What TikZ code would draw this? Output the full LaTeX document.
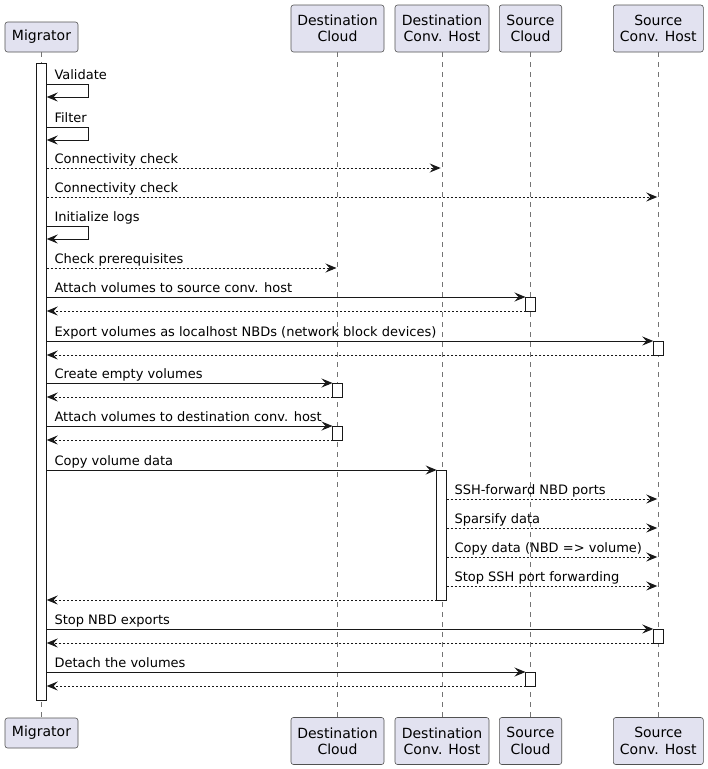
\documentclass[tikz,border=0pt]{standalone}
\usepackage{fontspec}
\setmainfont{DejaVu Sans}
\usetikzlibrary{arrows.meta}
\definecolor{partfill}{HTML}{E2E2F0}
\definecolor{ink}{HTML}{181818}
\tikzset{
 part/.style={draw=ink!75, line width=0.6pt, fill=partfill, rounded corners=2.5pt, font=\fontsize{14}{16.3}\selectfont, align=center, inner sep=0pt},
 lifeline/.style={draw=ink!60, line width=0.6pt, dash pattern=on 5pt off 5pt},
 actbox/.style={draw=ink, line width=1pt, fill=white, inner sep=0pt, minimum width=10pt},
 call/.style={draw=ink, line width=1pt, -{Stealth[length=11pt,width=9pt,inset=4pt]}},
 reply/.style={call, dash pattern=on 2pt off 2pt},
 lbl/.style={font=\fontsize{13}{15}\selectfont, inner sep=0pt, anchor=base west, text=black},
}
% #1 name, #2 y, #3 label
\newcommand{\selfmsg}[3]{%
 \draw[call] (46.7,#2) -- (88.3,#2) -- (88.3,#2+13) -- (46.7,#2+13);
 \node[lbl] (#1) at (54.3,#2-5) {#3};}
% #1 name, #2 style, #3 y, #4 x1, #5 x2, #6 label
\newcommand{\msg}[6]{%
 \draw[#2] (#4,#3) -- (#5,#3);
 \node[lbl] (#1) at (#4+7.6,#3-5) {#6};}
\newcommand{\ret}[3]{% y, x1, x2
 \draw[reply] (#2,#1) -- (#3,#1);}
\newcommand{\act}[4]{% name, x, y1, y2
 \node[actbox, minimum height=#4-#3] (#1) at (#2,{(#3+#4)/2}) {};}
\begin{document}
\begin{tikzpicture}[x=1pt,y=-1pt]
\useasboundingbox (0,0) rectangle (708,769);
% participants
\node[part, minimum width=73, minimum height=30] (mT) at (41.5,37) {Migrator};
\node[part, minimum width=93, minimum height=47] (dcT) at (337.5,28.5) {Destination\\Cloud};
\node[part, minimum width=94, minimum height=47] (dhT) at (442,28.5) {Destination\\Conv. Host};
\node[part, minimum width=62.4, minimum height=47] (scT) at (530.5,28.5) {Source\\Cloud};
\node[part, minimum width=90, minimum height=47] (shT) at (658.3,28.5) {Source\\Conv. Host};
\node[part, minimum width=73, minimum height=30] (mB) at (41.5,733) {Migrator};
\node[part, minimum width=93, minimum height=47] (dcB) at (337.5,741) {Destination\\Cloud};
\node[part, minimum width=94, minimum height=47] (dhB) at (442,741) {Destination\\Conv. Host};
\node[part, minimum width=62.4, minimum height=47] (scB) at (530.5,741) {Source\\Cloud};
\node[part, minimum width=90, minimum height=47] (shB) at (658.3,741) {Source\\Conv. Host};
% lifelines
\draw[lifeline] (mT.south) -- (mB.north);
\draw[lifeline] (dcT.south) -- (dcB.north);
\draw[lifeline] (dhT.south) -- (dhB.north);
\draw[lifeline] (scT.south) -- (scB.north);
\draw[lifeline] (shT.south) -- (shB.north);
% activations
\act{actM}{41.7}{63}{700}
\act{actSC1}{530.5}{297}{311}
\act{actSH1}{658.3}{341}{355}
\act{actDC1}{337.5}{383}{397}
\act{actDC2}{337.5}{426}{440}
\act{actDH}{441.7}{470}{600}
\act{actSH2}{658.3}{629}{643}
\act{actSC2}{530.5}{672}{686}
% messages
\selfmsg{l1}{84}{Validate}
\selfmsg{l2}{127}{Filter}
\msg{l3}{reply}{168}{46.7}{440.7}{Connectivity check}
\msg{l4}{reply}{197}{46.7}{657.3}{Connectivity check}
\selfmsg{l5}{226}{Initialize logs}
\msg{l6}{reply}{268}{46.7}{336.5}{Check prerequisites}
\msg{l7}{call}{297}{46.7}{525.5}{Attach volumes to source conv. host}
\ret{311}{525.5}{46.7}
\msg{l8}{call}{341}{46.7}{653.3}{Export volumes as localhost NBDs (network block devices)}
\ret{355}{653.3}{46.7}
\msg{l9}{call}{383}{46.7}{332.5}{Create empty volumes}
\ret{397}{332.5}{46.7}
\msg{l10}{call}{426}{46.7}{332.5}{Attach volumes to destination conv. host}
\ret{440}{332.5}{46.7}
\msg{l11}{call}{470}{46.7}{436.7}{Copy volume data}
\msg{l12}{reply}{499}{446.7}{657.3}{SSH-forward NBD ports}
\msg{l13}{reply}{528}{446.7}{657.3}{Sparsify data}
\msg{l14}{reply}{557}{446.7}{657.3}{Copy data (NBD => volume)}
\msg{l15}{reply}{586}{446.7}{657.3}{Stop SSH port forwarding}
\ret{600}{436.7}{46.7}
\msg{l16}{call}{629}{46.7}{653.3}{Stop NBD exports}
\ret{643}{653.3}{46.7}
\msg{l17}{call}{672}{46.7}{525.5}{Detach the volumes}
\ret{686}{525.5}{46.7}
\end{tikzpicture}
\end{document}
